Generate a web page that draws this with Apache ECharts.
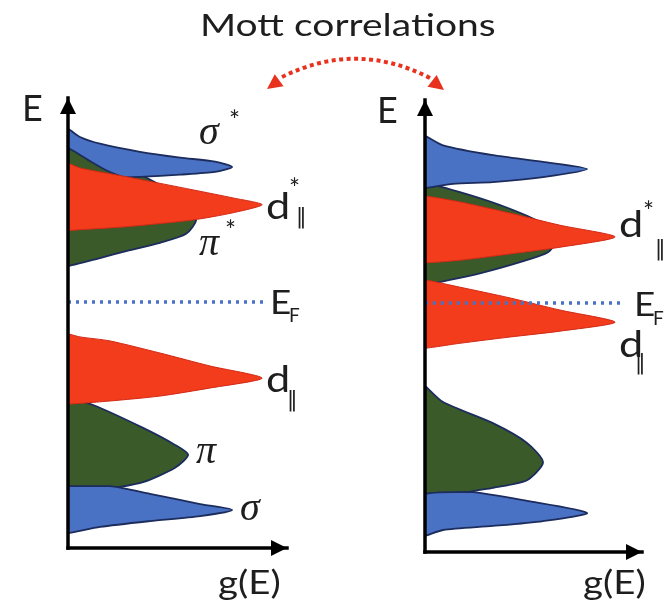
<!DOCTYPE html>
<html><head><meta charset="utf-8">
<script src="https://cdn.jsdelivr.net/npm/echarts@6/dist/echarts.min.js"></script>
<style>html,body{margin:0;padding:0;background:#fff}#c{width:667px;height:608px}</style>
</head><body><div id="c"></div>
<script>
// ---- data: peak outlines as [g(E), E] in arbitrary units ----
// Left panel (uncorrelated)
const leftSigmaStar = [[0,93.5],[5.4,91.7],[14.4,90.2],[32.4,88.4],[50.5,87.1],[66.2,86.2],[73.9,85.0],[66.2,83.9],[50.5,83.3],[32.4,82.8],[25.7,82.7],[16.7,84.4],[9.0,86.6],[1.8,88.8],[0,89.3]];
const leftPiStar = [[0,89.7],[9.9,88.4],[23.4,85.5],[41.4,81.0],[55.0,76.6],[57.7,73.2],[53.2,70.1],[41.4,68.1],[26.6,66.3],[14.4,64.7],[0,62.9]];
const leftDStar = [[0,85.9],[5.4,84.8],[26.6,82.8],[56.3,79.9],[74.3,78.1],[87.4,76.6],[74.3,74.8],[56.3,73.2],[26.6,71.7],[5.4,71.0],[0,70.8]];
const leftD = [[0,47.8],[5.4,47.1],[18.9,46.2],[41.4,43.5],[64.0,40.6],[87.4,37.9],[64.0,35.7],[41.4,33.9],[18.9,32.8],[0,32.1]];
const leftPi = [[0,33.5],[11.3,31.9],[33.8,26.8],[48.2,23.0],[54.1,20.8],[48.2,17.9],[33.8,14.7],[18.9,13.2],[0,11.2]];
const leftSigma = [[0,13.8],[18.9,13.8],[36.9,12.1],[59.5,9.8],[73.9,8.5],[59.5,7.1],[36.9,6.0],[14.4,4.7],[0,3.3]];
const leftEF = [[0,54.9],[88.7,54.9]];
// Right panel (Mott correlated)
const rightSigmaStar = [[0,92.7],[8.3,90.6],[31.3,88.4],[54.4,86.9],[74.7,85.3],[54.4,83.5],[31.3,82.4],[12.9,82.0],[0,81.1]];
const rightPiStar = [[0,82.2],[16.1,80.2],[34.6,77.3],[53.0,73.5],[60.4,69.5],[56.7,66.8],[43.8,64.6],[25.3,62.1],[11.5,60.6],[0,59.5]];
const rightDStar = [[0,79.3],[16.1,78.0],[39.2,75.5],[62.2,72.8],[87.6,70.2],[62.2,67.9],[39.2,66.4],[16.1,65.0],[0,64.4]];
const rightD = [[0,60.6],[16.1,59.0],[39.2,56.6],[62.2,53.9],[87.6,51.2],[62.2,49.2],[39.2,47.9],[16.1,46.5],[0,45.4]];
const rightPi = [[0,37.0],[8.3,33.4],[31.3,28.7],[47.0,24.3],[54.4,20.0],[47.0,16.0],[31.3,14.3],[20.7,13.4],[0,10.7]];
const rightSigma = [[0,12.9],[20.7,13.4],[47.0,11.4],[74.7,8.7],[54.4,6.9],[31.3,5.8],[8.3,4.9],[0,3.6]];
const rightEF = [[0,55.5],[89.9,55.5]];

const titleText = 'Mott correlations';
const axisYName = 'E';
const axisXName = 'g(E)';

// ---- styles ----
const BLUE = '#4a72c4', GREEN = '#3b5a29', RED = '#f23c1c';
const EDGE = '#1c2c5c', RED_EDGE = '#d02a16';
const INK = '#1e1e1e';

function peak(data, g, fill, stroke, lw, z) {
  return {
    type: 'custom', xAxisIndex: g, yAxisIndex: g, z: z, data: data, silent: true,
    renderItem: function (params, api) {
      if (params.dataIndex !== 0) return null;
      const pts = data.map(function (p) { return api.coord(p); });
      let x0 = Infinity, y0 = Infinity, x1 = -Infinity, y1 = -Infinity;
      pts.forEach(function (p) { x0 = Math.min(x0, p[0]); y0 = Math.min(y0, p[1]); x1 = Math.max(x1, p[0]); y1 = Math.max(y1, p[1]); });
      return { type: 'polygon', shape: { points: pts, smooth: 0.24, smoothConstraint: [[x0, y0], [x1 + 3, y1]] },
        style: { fill: fill, stroke: stroke, lineWidth: lw, lineJoin: 'round' } };
    }
  };
}
function efLine(data, g) {
  return { type: 'line', xAxisIndex: g, yAxisIndex: g, data: data, showSymbol: false, z: 8, silent: true,
    lineStyle: { color: '#4a72c4', width: 3.5, type: [3, 5] } };
}
function axX(g, max) {
  return { gridIndex: g, type: 'value', min: 0, max: max, z: 10,
    axisLine: { show: true, onZero: false, symbol: ['none', 'triangle'], symbolSize: [16, 16], symbolOffset: [0, -8],
      lineStyle: { color: '#000', width: 3.5, cap: 'square' } },
    axisTick: { show: false }, axisLabel: { show: false }, splitLine: { show: false } };
}
function axY(g, max) {
  return { gridIndex: g, type: 'value', min: 0, max: max, z: 10,
    axisLine: { show: true, onZero: false, symbol: ['none', 'triangle'], symbolSize: [16, 16], symbolOffset: [0, -8],
      lineStyle: { color: '#000', width: 3.5, cap: 'square' } },
    axisTick: { show: false }, axisLabel: { show: false }, splitLine: { show: false } };
}
function T(x, y, text, size, family, extra) {
  const st = Object.assign({ text: text, fontSize: size, fontFamily: family, fill: INK, align: 'left', verticalAlign: 'middle' }, (extra && extra.style) || {});
  const o = { type: 'text', x: x, y: y, z: 20, silent: true, style: st };
  if (extra && extra.scaleX) { o.scaleX = extra.scaleX; }
  return o;
}
const SANS = 'Lato', SERIF = 'Liberation Serif';
const IT = { style: { fontStyle: 'italic' } };

function arrowHead(tip, from, len, half) {
  const dx = tip[0] - from[0], dy = tip[1] - from[1];
  const L = Math.sqrt(dx * dx + dy * dy), ux = dx / L, uy = dy / L;
  const bx = tip[0] - ux * len, by = tip[1] - uy * len;
  return { type: 'polygon', z: 20, silent: true,
    shape: { points: [tip, [bx - uy * half, by + ux * half], [bx + uy * half, by - ux * half]] },
    style: { fill: '#e8321e' } };
}

const graphics = [
  T(200, 26, titleText, 30, SANS, { scaleX: 1.3 }),
  // arc
  { type: 'bezierCurve', z: 20, silent: true, shape: { x1: 282, y1: 77, cpx1: 356, cpy1: 40, x2: 430, y2: 78 },
    style: { stroke: '#e8321e', lineWidth: 4, lineDash: [4, 3.5], fill: null } },
  arrowHead([267, 89], [285, 76], 15, 7.5),
  arrowHead([444, 90], [427, 77], 15, 7.5),
  // left panel labels
  T(22, 109, axisYName, 36, SANS),
  T(218, 584, axisXName, 32, SANS, { scaleX: 1.2 }),
  T(199, 133, 'σ', 40, SERIF, IT),
  T(229, 122, '*', 26, SANS),
  T(266, 207, 'd', 36, SANS, { scaleX: 1.2 }),
  T(289, 190, '*', 26, SANS),
  T(296, 218, '‖', 21, 'DejaVu Sans'),
  T(199, 244, 'π', 40, SERIF, IT),
  T(225, 232, '*', 26, SANS),
  T(270, 304, 'E', 32, SANS, { scaleX: 1.15 }),
  T(289, 316, 'F', 19, SANS),
  T(266, 380, 'd', 36, SANS, { scaleX: 1.2 }),
  T(287, 401, '‖', 21, 'DejaVu Sans'),
  T(196, 452, 'π', 40, SERIF, IT),
  T(240, 509, 'σ', 40, SERIF, IT),
  // right panel labels
  T(377, 111, axisYName, 36, SANS),
  T(583, 584, axisXName, 32, SANS, { scaleX: 1.2 }),
  T(619, 225, 'd', 36, SANS, { scaleX: 1.2 }),
  T(643, 213, '*', 26, SANS),
  T(655, 250, '‖', 21, 'DejaVu Sans'),
  T(634, 306, 'E', 32, SANS, { scaleX: 1.15 }),
  T(653, 319, 'F', 19, SANS),
  T(619, 345, 'd', 36, SANS, { scaleX: 1.2 }),
  T(635, 364, '‖', 21, 'DejaVu Sans')
];

const chart = echarts.init(document.getElementById('c'), null, { renderer: 'canvas' });
chart.setOption({
  animation: false,
  backgroundColor: '#fff',
  grid: [
    { left: 68, top: 98, width: 219, height: 450 },
    { left: 425, top: 100, width: 217, height: 452 }
  ],
  xAxis: [axX(0, 98.6), axX(1, 100)],
  yAxis: [axY(0, 100.4), axY(1, 100.7)],
  series: [
    peak(leftPiStar, 0, GREEN, EDGE, 1.8, 2),
    peak(leftSigmaStar, 0, BLUE, EDGE, 1.8, 3),
    peak(leftDStar, 0, RED, RED_EDGE, 1, 4),
    peak(leftPi, 0, GREEN, EDGE, 1.8, 2),
    peak(leftSigma, 0, BLUE, EDGE, 1.8, 3),
    peak(leftD, 0, RED, RED_EDGE, 1, 4),
    efLine(leftEF, 0),
    peak(rightPiStar, 1, GREEN, EDGE, 1.8, 2),
    peak(rightSigmaStar, 1, BLUE, EDGE, 1.8, 3),
    peak(rightDStar, 1, RED, RED_EDGE, 1, 4),
    peak(rightPi, 1, GREEN, EDGE, 1.8, 2),
    peak(rightSigma, 1, BLUE, EDGE, 1.8, 3),
    peak(rightD, 1, RED, RED_EDGE, 1, 4),
    efLine(rightEF, 1)
  ],
  graphic: graphics
});
</script></body></html>
